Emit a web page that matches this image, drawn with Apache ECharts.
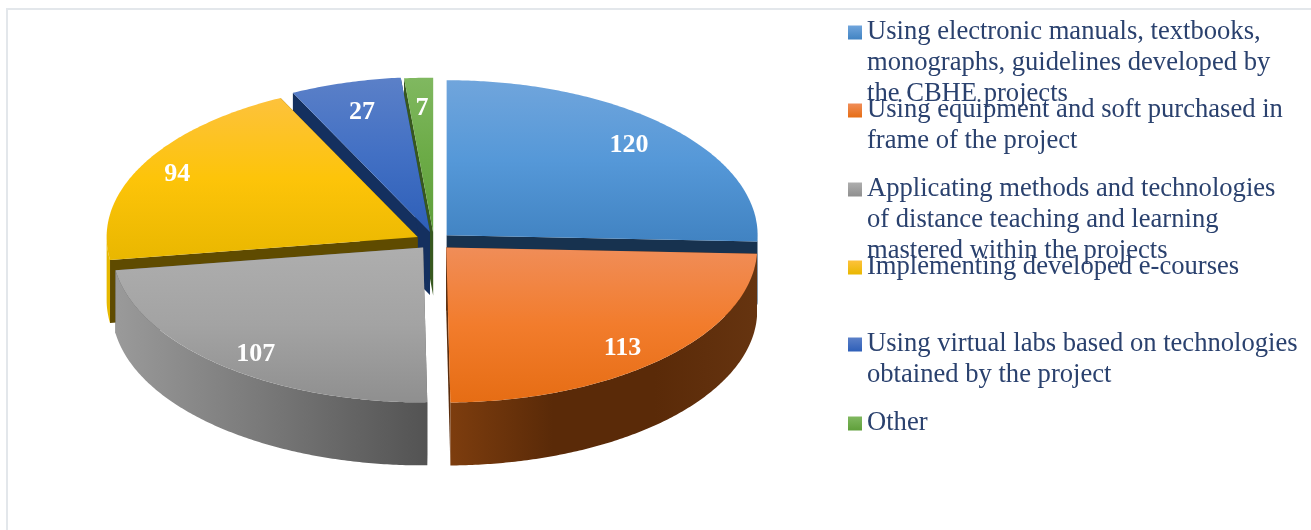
<!DOCTYPE html>
<html><head><meta charset="utf-8">
<style>html,body{margin:0;padding:0;background:#fff}#c{width:1311px;height:530px}</style>
<script src="https://cdn.jsdelivr.net/npm/echarts@6/dist/echarts.min.js"></script>
</head><body><div id="c"></div>
<script>
const categories = [
  "Using electronic manuals, textbooks,\nmonographs, guidelines developed by\nthe CBHE projects",
  "Using equipment and soft purchased in\nframe of the project",
  "Applicating methods and technologies\nof distance teaching and learning\nmastered within the projects",
  "Implementing developed e-courses",
  "Using virtual labs based on technologies\nobtained by the project",
  "Other"
];
const values = [120, 113, 107, 94, 27, 7];

// styles
const topColors = [
  ['#70a5dc','#5598d8','#4183c2'],
  ['#f08d58','#f27c2c','#e66d14'],
  ['#aeaeae','#a3a3a3','#8f8f8f'],
  ['#fdc23c','#fdc409','#e9b700'],
  ['#5b80c8','#4270c4','#2e5fb8'],
  ['#80b860','#6cab47','#5f9f3a']
];
const cutColors = ['#17324f','#5a2c0c','#5a5a5a','#5f4b00','#14305f','#37581f'];
const wallStops = [
  ['#1f4a74','#1f4a74'],
  ['#7d3d0e','#5a2a08','#5a2a08','#663410'],
  ['#9a9a9a','#777777','#535353'],
  ['#e6b800','#e6b800'],
  ['#1f3f7a','#1f3f7a'],
  ['#3f6b26','#3f6b26']
];
const drawOrder = [3, 5, 4, 2, 1, 0]; // stacking height per slice
const legendFirstLine = [32.5, 110.5, 189.5, 267.5, 344.5, 423.5];

// layout of the tilted pie
const cx = 434, cy = 241, rx = 311, ry = 155, depth = 63, explode = 0.054, labelFrac = 0.84;
const sliceShift = [[0.5,0],[0.5,0.5],[0,0],[-1.5,0],[0.5,-1],[0,0]];
const labelShift = [[-6,0],[-6,7],[2,8],[-9,-2],[3,6],[1,6]];
const lineH = 30.7;

const total = values.reduce((s, v) => s + v, 0);
function grad(x2, y2, cols) {
  return { type:'linear', x:0, y:0, x2, y2, global:false,
    colorStops: cols.map((c, i) => ({ offset: i / (cols.length - 1), color: c })) };
}
function arc(ox, oy, a0, a1, dy) {
  const n = Math.max(2, Math.ceil((a1 - a0) / 0.01)), pts = [];
  for (let k = 0; k <= n; k++) {
    const a = a0 + (a1 - a0) * k / n;
    pts.push([ox + rx * Math.sin(a), oy - ry * Math.cos(a) + dy]);
  }
  return pts;
}
function renderSlice(i, api) {
  const v = api.value(0);
  let before = 0;
  for (let k = 0; k < i; k++) before += values[k];
  const a0 = before / total * 2 * Math.PI, a1 = (before + v) / total * 2 * Math.PI, mid = (a0 + a1) / 2;
  const ax = cx + explode * rx * Math.sin(mid) + sliceShift[i][0], ay = cy - explode * ry * Math.cos(mid) + sliceShift[i][1];
  const children = [];
  const rimA = arc(ax, ay, a0, a0, 0)[0], rimB = arc(ax, ay, a1, a1, 0)[0];
  [rimA, rimB].forEach(r => children.push({ type:'polygon',
    shape:{ points:[[ax,ay],r,[r[0],r[1]+depth],[ax,ay+depth]] },
    style:{ fill:cutColors[i] } }));
  const w0 = Math.max(a0, Math.PI / 2), w1 = Math.min(a1, 3 * Math.PI / 2);
  if (w1 > w0) {
    const up = arc(ax, ay, w0, w1, 0), down = arc(ax, ay, w0, w1, depth).reverse();
    children.push({ type:'polygon', shape:{ points: up.concat(down) },
      style:{ fill: grad(1, 0, wallStops[i]) } });
  }
  children.push({ type:'polygon', shape:{ points:[[ax,ay]].concat(arc(ax, ay, a0, a1, 0)) },
    style:{ fill: grad(0, 1, topColors[i]) } });
  children.push({ type:'text', style:{
    text:String(v),
    x: ax + labelFrac * rx * Math.sin(mid) + labelShift[i][0],
    y: ay - labelFrac * ry * Math.cos(mid) + labelShift[i][1],
    align:'center', verticalAlign:'middle', fill:'#fff',
    font:'bold 26px "Liberation Serif"' } });
  return { type:'group', children };
}

const chart = echarts.init(document.getElementById('c'));
chart.setOption({
  animation:false,
  backgroundColor:'#fff',
  graphic:[
    { type:'polyline', silent:true, shape:{ points:[[7,530],[7,9],[1311,9]] },
      style:{ stroke:'#e3e7eb', lineWidth:2, fill:null } }
  ],
  legend: categories.map((name, i) => {
    const extra = name.split('\n').length - 1;
    return {
      left:848, top: legendFirstLine[i] - lineH * (extra + 0.5), orient:'vertical', padding:0,
      selectedMode:false, itemWidth:14, itemHeight:14, icon:'rect',
      data:[{ name, itemStyle:{ color: grad(0, 1, [topColors[i][0], topColors[i][2]]) } }],
      formatter: n => '\n'.repeat(extra) + n,
      textStyle:{ fontFamily:'Liberation Serif', fontSize:26.6, lineHeight:lineH, color:'#2a416e' }
    };
  }),
  series: categories.map((name, i) => ({
    type:'custom', name, coordinateSystem:'none', silent:true, z: 2 + drawOrder[i],
    itemStyle:{ color: topColors[i][1] },
    data:[[values[i]]],
    renderItem:(p, api) => renderSlice(i, api)
  }))
});
</script></body></html>
